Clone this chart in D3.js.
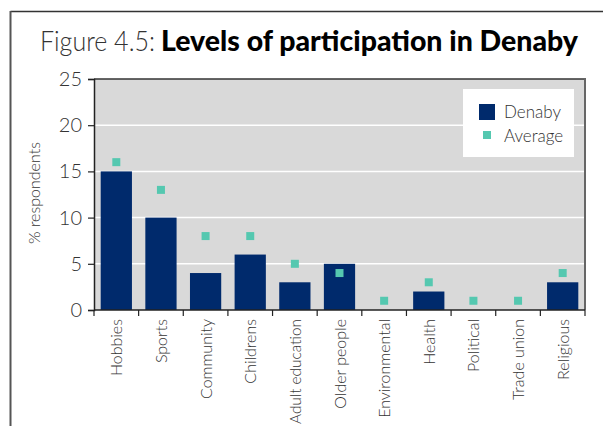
<!DOCTYPE html>
<html><head><meta charset="utf-8">
<script src="https://cdn.jsdelivr.net/npm/d3@7"></script>
<style>
html,body{margin:0;padding:0;background:#fff;}
svg{display:block;}
text{font-family:Lato,"Open Sans",sans-serif;fill:#333;}
</style></head>
<body><svg id="c" width="603" height="426"></svg>
<script>
const categories = ["Hobbies","Sports","Community","Childrens","Adult education","Older people","Environmental","Health","Political","Trade union","Religious"];
const denaby = [15,10,4,6,3,5,0,2,0,0,3];
const average = [16,13,8,8,5,4,1,3,1,1,4];
const yTicks = [0,5,10,15,20,25];
const seriesNames = ["Denaby","Average"];
const colors = {Denaby:"#002a6c", Average:"#55c8b0"};

const svg = d3.select("#c");
const m = {left:94, right:585, top:79, bottom:310};

// outer frame
svg.append("line").attr("x1",10.5).attr("x2",603).attr("y1",11.5).attr("y2",11.5).attr("stroke","#333").attr("stroke-width",1.5);
svg.append("line").attr("x1",10.5).attr("x2",10.5).attr("y1",11).attr("y2",426).attr("stroke","#555").attr("stroke-width",2);

// title
svg.append("text").attr("x",40).attr("y",51).style("font-size","28px").style("font-weight",300)
  .attr("textLength",115).attr("lengthAdjust","spacingAndGlyphs").text("Figure 4.5:");
svg.append("text").attr("x",161).attr("y",51).style("font-size","28px").style("font-weight",900).style("fill","#000")
  .attr("textLength",417).attr("lengthAdjust","spacingAndGlyphs").text("Levels of participation in Denaby");

const x = d3.scaleBand().domain(categories).range([m.left,m.right]).paddingInner(0.3).paddingOuter(0.15);
const y = d3.scaleLinear().domain([0,25]).range([m.bottom,m.top]);

svg.append("rect").attr("x",m.left).attr("y",m.top).attr("width",m.right-m.left).attr("height",m.bottom-m.top).attr("fill","#d9d9d9");

svg.append("g").selectAll("line").data(yTicks.filter(d=>d>0&&d<25)).join("line")
  .attr("x1",m.left).attr("x2",m.right).attr("y1",d=>y(d)).attr("y2",d=>y(d)).attr("stroke","#fff").attr("stroke-width",1.5);

// top & right border
svg.append("line").attr("x1",m.left).attr("x2",m.right+1).attr("y1",m.top).attr("y2",m.top).attr("stroke","#333").attr("stroke-width",1.5);
svg.append("line").attr("x1",m.right).attr("x2",m.right).attr("y1",m.top).attr("y2",m.bottom).attr("stroke","#666").attr("stroke-width",2);

// bars
svg.append("g").selectAll("rect").data(categories).join("rect")
  .attr("x",d=>x(d)).attr("width",x.bandwidth())
  .attr("y",(d,i)=>y(denaby[i])).attr("height",(d,i)=>y(0)-y(denaby[i]))
  .attr("fill",colors.Denaby);

// average markers
const ms = 8;
svg.append("g").selectAll("rect").data(categories).join("rect")
  .attr("x",d=>x(d)+x.bandwidth()/2-ms/2).attr("width",ms)
  .attr("y",(d,i)=>y(average[i])-ms/2).attr("height",ms)
  .attr("fill",colors.Average);

// y axis
const ya = svg.append("g").attr("transform",`translate(${m.left},0)`)
  .call(d3.axisLeft(y).tickValues(yTicks).tickSize(6).tickPadding(6));
ya.select(".domain").attr("stroke","#222").attr("stroke-width",1.5);
ya.selectAll(".tick line").attr("stroke","#222").attr("stroke-width",1.2);
ya.selectAll("text").style("font-size","20px").style("font-weight",300).style("font-family","Lato,sans-serif").attr("fill","#333");

// x axis with ticks at band boundaries
const xa = svg.append("g").attr("transform",`translate(0,${m.bottom})`);
xa.append("line").attr("x1",m.left).attr("x2",m.right).attr("stroke","#222").attr("stroke-width",1.5);
const step = x.step();
const bounds = categories.map(c=>x(c)-x.paddingInner()*step/2).concat([m.right]);
bounds[0] = m.left;
xa.selectAll("line.tk").data(bounds).join("line").attr("class","tk")
  .attr("x1",d=>d).attr("x2",d=>d).attr("y1",0).attr("y2",6).attr("stroke","#222").attr("stroke-width",1.2);
xa.selectAll("text").data(categories).join("text")
  .attr("transform",d=>`translate(${x(d)+x.bandwidth()/2+6},9) rotate(-90)`)
  .attr("text-anchor","end").style("font-size","16px").style("font-weight",300)
  .each(function(d){ const n=this; n.textContent=d; const w=n.getComputedTextLength(); if(w>105){ d3.select(n).attr("textLength",105).attr("lengthAdjust","spacingAndGlyphs"); } });

// y title
svg.append("text").attr("transform","translate(40,193) rotate(-90)").attr("text-anchor","middle")
  .style("font-size","16px").style("font-weight",300).text("% respondents");

// legend
const lg = svg.append("g");
lg.append("rect").attr("x",463).attr("y",89).attr("width",111).attr("height",68).attr("fill","#fff");
lg.append("rect").attr("x",479).attr("y",104).attr("width",16).attr("height",16).attr("fill",colors.Denaby);
lg.append("rect").attr("x",483).attr("y",131).attr("width",8).attr("height",8).attr("fill",colors.Average);
lg.selectAll("text").data(seriesNames).join("text").attr("x",504).attr("y",(d,i)=>118+i*24)
  .style("font-size","17px").style("font-weight",300).text(d=>d);
</script></body></html>
